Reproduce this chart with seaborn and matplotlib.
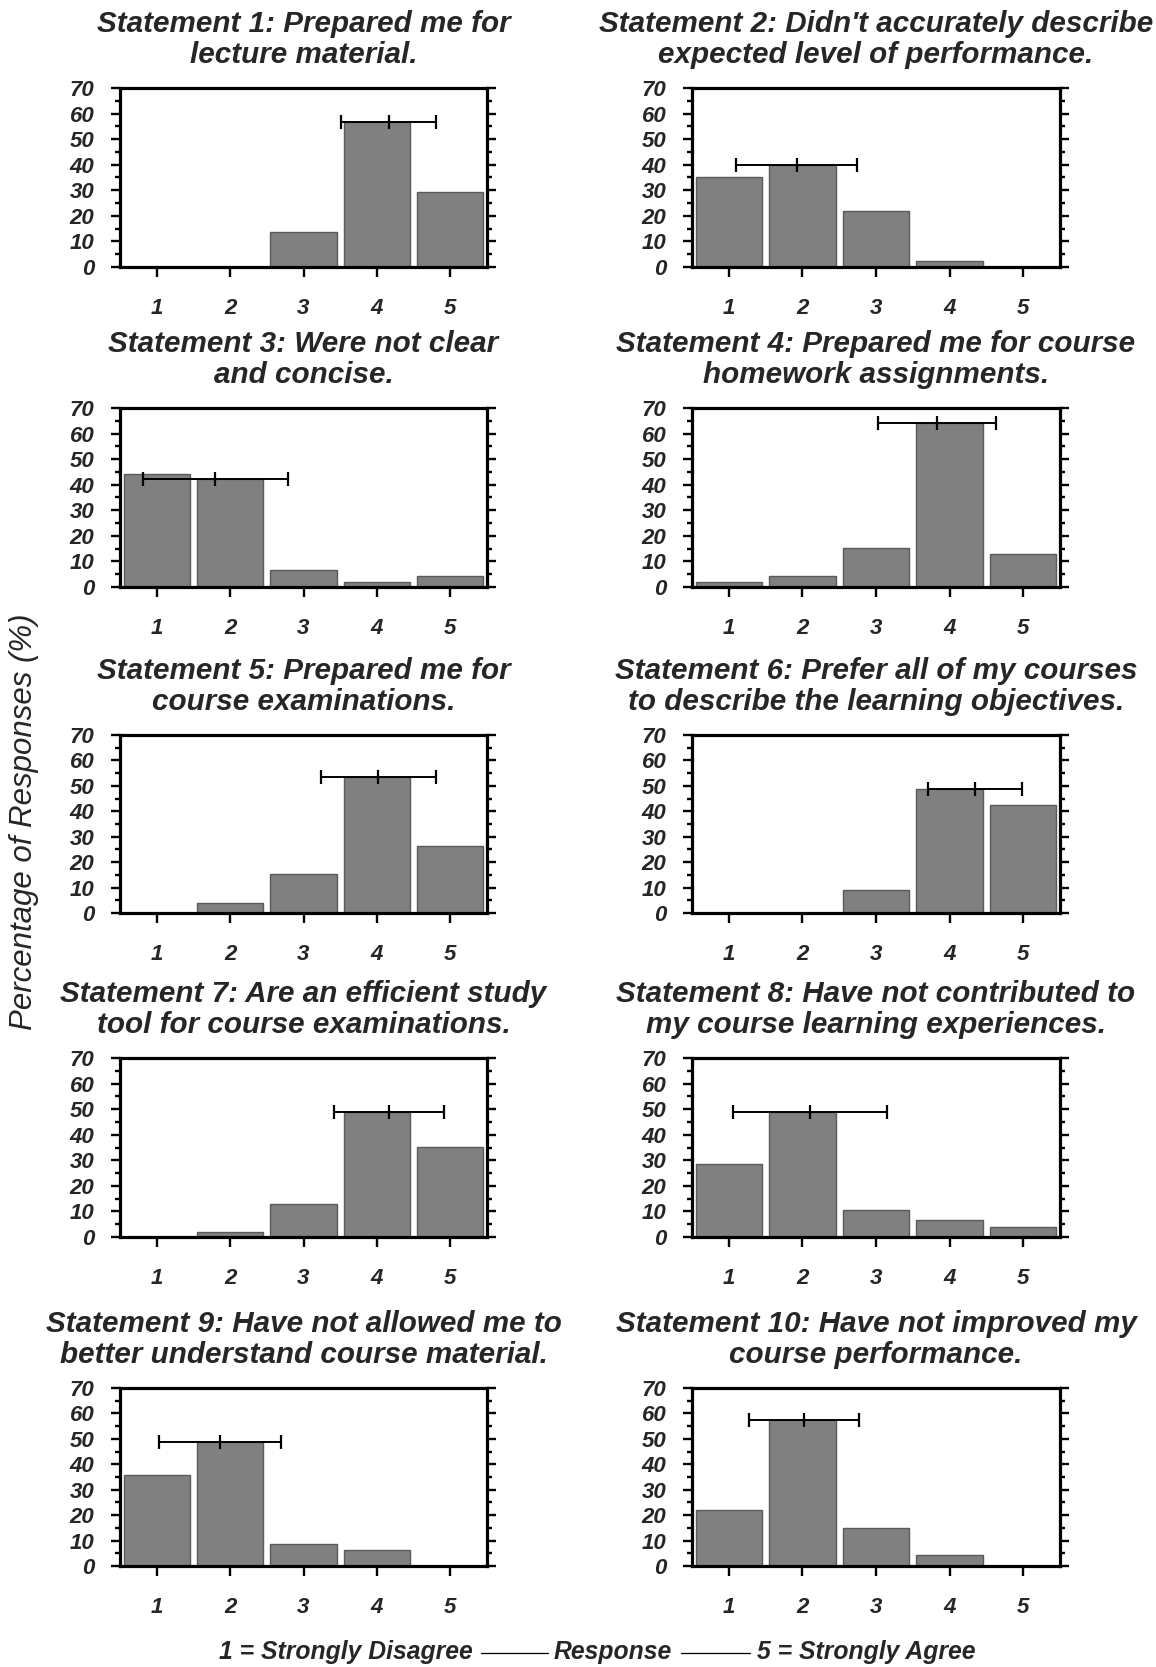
import matplotlib
matplotlib.use("Agg")
import matplotlib.pyplot as plt
from matplotlib.lines import Line2D
import seaborn as sns

# ---------------- data ----------------
titles = [
    "Statement 1: Prepared me for\nlecture material.",
    "Statement 2: Didn't accurately describe\nexpected level of performance.",
    "Statement 3: Were not clear\nand concise.",
    "Statement 4: Prepared me for course\nhomework assignments.",
    "Statement 5: Prepared me for\ncourse examinations.",
    "Statement 6: Prefer all of my courses\nto describe the learning objectives.",
    "Statement 7: Are an efficient study\ntool for course examinations.",
    "Statement 8: Have not contributed to\nmy course learning experiences.",
    "Statement 9: Have not allowed me to\nbetter understand course material.",
    "Statement 10: Have not improved my\ncourse performance.",
]
responses = [1, 2, 3, 4, 5]
tick_labels = ["1", "2", "3", "4", "5"]

s1 = [0.0, 0.0, 13.5, 56.7, 29.4]
s2 = [35.3, 39.9, 22.0, 2.2, 0.0]
s3 = [44.2, 42.1, 6.5, 2.1, 4.2]
s4 = [2.1, 4.2, 15.3, 64.1, 13.1]
s5 = [0.0, 4.1, 15.5, 53.3, 26.5]
s6 = [0.0, 0.0, 8.9, 48.7, 42.4]
s7 = [0.0, 1.8, 13.1, 48.7, 35.3]
s8 = [28.5, 48.7, 10.7, 6.5, 3.9]
s9 = [35.7, 48.8, 8.8, 6.4, 0.0]
s10 = [22.0, 57.6, 15.1, 4.2, 0.0]
series = [s1, s2, s3, s4, s5, s6, s7, s8, s9, s10]

means = [4.16, 1.92, 1.80, 3.83, 4.02, 4.34, 4.17, 2.10, 1.865, 2.02]
sds = [0.65, 0.82, 0.99, 0.80, 0.78, 0.64, 0.75, 1.045, 0.83, 0.75]

ylabel = "Percentage of Responses (%)"
scale_left = "1 = Strongly Disagree"
scale_mid = "Response"
scale_right = "5 = Strongly Agree"

# ---------------- style ----------------
sns.set_style("ticks")
plt.rcParams["font.family"] = ["Liberation Sans", "DejaVu Sans"]
plt.rcParams["font.weight"] = "bold"
plt.rcParams["font.style"] = "italic"

W, H = 1156, 1667
fig = plt.figure(figsize=(W / 100, H / 100), dpi=100)

col_x = [(120, 487), (692, 1060)]
row_y = [(88, 267), (408, 587), (735, 913), (1058, 1237), (1388, 1566)]

for i, (title, vals, m, sd) in enumerate(zip(titles, series, means, sds)):
    r, c = divmod(i, 2)
    x0, x1 = col_x[c]
    yt, yb = row_y[r]
    ax = fig.add_axes([x0 / W, 1 - yb / H, (x1 - x0) / W, (yb - yt) / H])
    sns.barplot(x=responses, y=vals, native_scale=True, width=0.9,
                color="#808080", saturation=1, edgecolor="#5a5a5a",
                linewidth=1, errorbar=None, ax=ax, zorder=2)
    ax.set_xlim(0.5, 5.5)
    ax.set_ylim(0, 70)
    ax.set_xticks(responses)
    ax.set_xticklabels(tick_labels)
    ax.set_yticks(range(0, 71, 10))
    ax.set_yticks(range(5, 70, 10), minor=True)
    ax.set_xlabel("")
    ax.set_ylabel("")
    for sp in ax.spines.values():
        sp.set_visible(True)
        sp.set_linewidth(2.3)
        sp.set_color("black")
    ax.tick_params(axis="y", which="both", direction="out", left=True,
                   right=True, labelleft=True, labelright=False, width=1.7,
                   color="black")
    ax.tick_params(axis="y", which="major", length=6.5, pad=12, labelsize=16)
    ax.tick_params(axis="y", which="minor", length=3.5)
    ax.tick_params(axis="x", which="major", direction="out", length=7.5,
                   width=1.7, pad=15, labelsize=16, color="black")
    ax.tick_params(axis="x", which="minor", bottom=False, top=False)

    h = vals[int(round(m)) - 1]
    ax.errorbar(m, h, xerr=sd, fmt="none", ecolor="black", elinewidth=1.4,
                capsize=5, capthick=1.6, zorder=4)
    ax.plot([m], [h], marker="|", markersize=10, mew=1.6, color="black",
            zorder=5)
    ax.set_title(title, fontsize=21.3, fontweight="bold", fontstyle="italic",
                 pad=18, linespacing=1.15)

fig.text(24 / W, 1 - 822 / H, ylabel, rotation=90, ha="center", va="center",
         fontsize=22.5, fontweight="normal", fontstyle="italic")

ty = 1 - 1652 / H
fig.text(473 / W, ty, scale_left, ha="right", va="center", fontsize=17.8,
         fontweight="bold", fontstyle="italic")
fig.text(613 / W, ty, scale_mid, ha="center", va="center", fontsize=17.8,
         fontweight="bold", fontstyle="italic")
fig.text(757 / W, ty, scale_right, ha="left", va="center", fontsize=17.8,
         fontweight="bold", fontstyle="italic")
ly = 1 - 1653 / H
fig.add_artist(Line2D([481 / W, 548 / W], [ly, ly], color="black", lw=0.9,
                      transform=fig.transFigure))
fig.add_artist(Line2D([681 / W, 750 / W], [ly, ly], color="black", lw=0.9,
                      transform=fig.transFigure))

fig.savefig("out.png", dpi=100, facecolor="white")
